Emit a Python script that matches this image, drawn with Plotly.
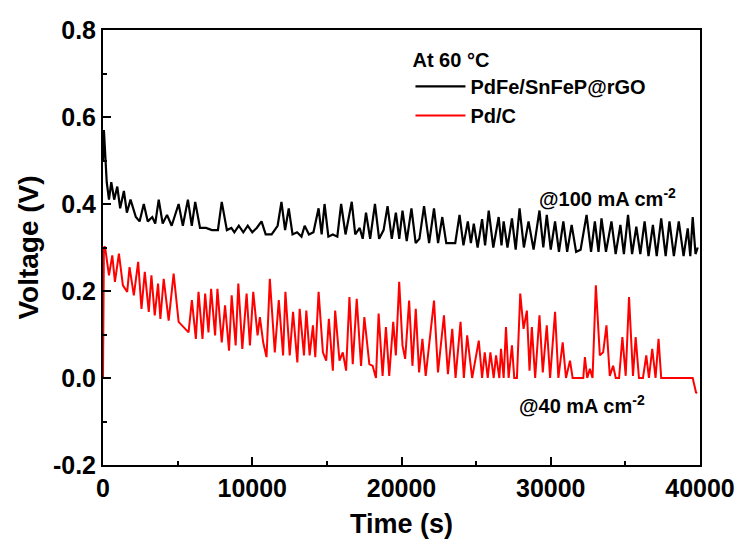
import plotly.graph_objects as go

# ---------------- data ----------------
black_t = [0, 60, 250, 400, 555, 750, 956, 1150, 1400, 1600,
           1845, 2200, 2450, 2733, 3000, 3300, 3500, 3733, 4000, 4289,
           4600, 4800, 5067, 5350, 5689, 5950, 6178, 6500, 6900, 7300,
           7700, 7956, 8300, 8600, 8800, 9100, 9400, 9700, 10000, 10300,
           10622, 10900, 11300, 11700, 11956, 12200, 12445, 12700, 13000, 13300,
           13511, 13800, 14100, 14444, 14650, 14844, 15100, 15400, 15700, 15956,
           16250, 16667, 16900, 17200, 17400, 17622, 17900, 18222, 18500, 18800,
           19067, 19350, 19622, 19850, 20067, 20350, 20667, 20950, 21200, 21511,
           21850, 22178, 22450, 22733, 23000, 23400, 23600, 23889, 24150, 24444,
           24650, 24844, 25100, 25400, 25600, 25844, 26150, 26511, 26700, 26844,
           27100, 27400, 27650, 27911, 28200, 28511, 28850, 29244, 29500, 29733,
           30000, 30289, 30550, 30844, 31100, 31400, 31700, 32000, 32400, 32700,
           32956, 33200, 33400, 33700, 34067, 34350, 34667, 34900, 35178, 35450,
           35733, 36000, 36289, 36550, 36844, 37100, 37400, 37700, 37956, 38250,
           38578, 38900, 39178, 39350, 39511, 39700, 39850]
black_v = [0.50, 0.57, 0.45, 0.41, 0.45, 0.41, 0.44, 0.39, 0.43, 0.38,
           0.41, 0.37, 0.36, 0.40, 0.36, 0.37, 0.355, 0.41, 0.355, 0.375,
           0.35, 0.37, 0.40, 0.35, 0.41, 0.35, 0.405, 0.345, 0.345, 0.34,
           0.34, 0.405, 0.34, 0.345, 0.335, 0.35, 0.335, 0.35, 0.335, 0.345,
           0.36, 0.33, 0.33, 0.35, 0.405, 0.34, 0.39, 0.33, 0.335, 0.325,
           0.35, 0.33, 0.335, 0.39, 0.33, 0.40, 0.325, 0.33, 0.325, 0.40,
           0.33, 0.405, 0.33, 0.345, 0.32, 0.38, 0.32, 0.40, 0.32, 0.34,
           0.395, 0.32, 0.38, 0.32, 0.385, 0.315, 0.39, 0.31, 0.32, 0.395,
           0.31, 0.39, 0.31, 0.37, 0.31, 0.31, 0.31, 0.375, 0.305, 0.36,
           0.31, 0.355, 0.30, 0.365, 0.305, 0.385, 0.30, 0.37, 0.305, 0.36,
           0.30, 0.367, 0.295, 0.39, 0.30, 0.36, 0.295, 0.385, 0.30, 0.375,
           0.295, 0.36, 0.29, 0.36, 0.29, 0.352, 0.29, 0.295, 0.375, 0.29,
           0.36, 0.29, 0.367, 0.29, 0.36, 0.285, 0.352, 0.285, 0.375, 0.285,
           0.348, 0.285, 0.36, 0.28, 0.352, 0.28, 0.367, 0.28, 0.36, 0.28,
           0.36, 0.28, 0.344, 0.28, 0.37, 0.285, 0.30]

red_t = [0, 60, 133, 400, 622, 800, 1067, 1333, 1622, 1778,
         2067, 2356, 2578, 2800, 3067, 3244, 3467, 3689, 3844, 4067,
         4400, 4733, 5067, 5289, 5733, 5956, 6222, 6400, 6667, 6844,
         7067, 7244, 7511, 7667, 7956, 8178, 8444, 8622, 8889, 9067,
         9333, 9622, 9844, 10067, 10356, 10511, 10733, 10956, 11178, 11511,
         11778, 12067, 12222, 12511, 12733, 13022, 13178, 13467, 13622, 13845,
         14067, 14222, 14445, 14734, 14956, 15134, 15400, 15556, 15845, 16067,
         16289, 16511, 16734, 17000, 17289, 17511, 17845, 18067, 18289, 18467,
         18734, 18956, 19178, 19445, 19622, 19845, 20067, 20245, 20511, 20734,
         20956, 21178, 21400, 21622, 22178, 22445, 22845, 23111, 23400, 23622,
         23956, 24178, 24400, 24734, 25178, 25400, 25578, 25778, 25956, 26178,
         26334, 26556, 26667, 26845, 27000, 27178, 27400, 27556, 27733, 27956,
         28178, 28400, 28578, 28733, 28956, 29244, 29467, 29733, 29956, 30289,
         30511, 30800, 31022, 31289, 31467, 32178, 32289, 32444, 32622, 32800,
         33022, 33289, 33511, 33733, 33956, 34178, 34356, 34578, 34800, 35022,
         35245, 35511, 35689, 35911, 36178, 36400, 36578, 36800, 37022, 37222,
         37400, 39511, 39733, 39800]
red_v = [0.0, 0.30, 0.302, 0.236, 0.282, 0.221, 0.286, 0.213, 0.198, 0.255,
         0.190, 0.267, 0.159, 0.244, 0.152, 0.236, 0.144, 0.217, 0.136, 0.228,
         0.132, 0.240, 0.129, 0.121, 0.105, 0.179, 0.090, 0.198, 0.090, 0.194,
         0.105, 0.205, 0.098, 0.205, 0.082, 0.167, 0.063, 0.190, 0.075, 0.217,
         0.067, 0.194, 0.075, 0.198, 0.098, 0.140, 0.082, 0.048, 0.228, 0.059,
         0.179, 0.052, 0.198, 0.052, 0.152, 0.036, 0.159, 0.052, 0.155, 0.052,
         0.121, 0.048, 0.198, 0.059, 0.040, 0.136, 0.017, 0.155, 0.040, 0.059,
         0.017, 0.186, 0.032, 0.182, 0.028, 0.140, 0.032, 0.028, 0.0, 0.148,
         0.005, 0.117, 0.005, 0.129, 0.052, 0.221, 0.075, 0.044, 0.178, 0.028,
         0.159, 0.013, 0.090, 0.005, 0.178, 0.013, 0.144, 0.009, 0.113, 0.0,
         0.129, 0.0, 0.098, 0.0, 0.086, 0.0, 0.059, 0.0, 0.059, 0.0,
         0.052, 0.0, 0.067, 0.0, 0.117, 0.0, 0.075, 0.0, 0.0, 0.194,
         0.113, 0.155, 0.017, 0.117, 0.0, 0.144, 0.013, 0.121, 0.0, 0.152,
         0.0, 0.082, 0.0, 0.040, 0.0, 0.0, 0.048, 0.0, 0.021, 0.0,
         0.213, 0.052, 0.059, 0.121, 0.005, 0.028, 0.0, 0.0, 0.094, 0.005,
         0.186, 0.005, 0.094, 0.0, 0.0, 0.052, 0.0, 0.067, 0.0, 0.090,
         0.0, 0.0, -0.033, -0.035]

series_names = ["PdFe/SnFeP@rGO", "Pd/C"]
legend_title = "At 60 °C"
x_ticks = [0, 10000, 20000, 30000, 40000]
y_ticks = [-0.2, 0.0, 0.2, 0.4, 0.6, 0.8]
y_tick_text = ["-0.2", "0.0", "0.2", "0.4", "0.6", "0.8"]

FONT = "Liberation Sans, Arial, sans-serif"

fig = go.Figure()
fig.add_trace(go.Scatter(x=black_t, y=black_v, mode="lines", name=series_names[0],
                         line=dict(color="#000000", width=2.2)))
fig.add_trace(go.Scatter(x=red_t, y=red_v, mode="lines", name=series_names[1],
                         line=dict(color="#FF0000", width=2)))

axis_common = dict(
    showline=True, linecolor="black", linewidth=2, mirror=True,
    ticks="inside", ticklen=8, tickwidth=2, tickcolor="black",
    showgrid=False, zeroline=False,
    tickfont=dict(family=FONT, size=25, color="black", weight="bold"),
)

fig.update_xaxes(
    range=[0, 40000], tickvals=x_ticks, ticktext=[str(v) for v in x_ticks],
    minor=dict(ticks="inside", ticklen=4, tickwidth=2, tickcolor="black", dtick=5000, tick0=0),
    title=dict(text="Time (s)", font=dict(family=FONT, size=27, color="black", weight="bold"),
               standoff=13),
    **axis_common,
)
fig.update_yaxes(
    range=[-0.2, 0.8], tickvals=y_ticks, ticktext=y_tick_text,
    minor=dict(ticks="inside", ticklen=4, tickwidth=2, tickcolor="black", dtick=0.1, tick0=0),
    title=dict(text="Voltage (V)", font=dict(family=FONT, size=28, color="black", weight="bold"),
               standoff=6),
    **axis_common,
)

fig.add_annotation(x=33800, y=0.416, xref="x", yref="y", showarrow=False,
                   text="@100 mA cm<sup>-2</sup>",
                   font=dict(family=FONT, size=20, color="black", weight="bold"))
fig.add_annotation(x=32100, y=-0.06, xref="x", yref="y", showarrow=False,
                   text="@40 mA cm<sup>-2</sup>",
                   font=dict(family=FONT, size=20, color="black", weight="bold"))

fig.update_layout(
    width=747, height=548,
    margin=dict(l=103, r=43, t=30, b=83),
    paper_bgcolor="white", plot_bgcolor="white",
    showlegend=True,
    legend=dict(
        x=0.515, y=0.975, xanchor="left", yanchor="top",
        bgcolor="rgba(0,0,0,0)", borderwidth=0,
        title=dict(text=legend_title, font=dict(family=FONT, size=20, color="black", weight="bold")),
        font=dict(family=FONT, size=20, color="black", weight="bold"),
        itemwidth=50, tracegroupgap=0,
    ),
)

fig.write_html("out.html")
